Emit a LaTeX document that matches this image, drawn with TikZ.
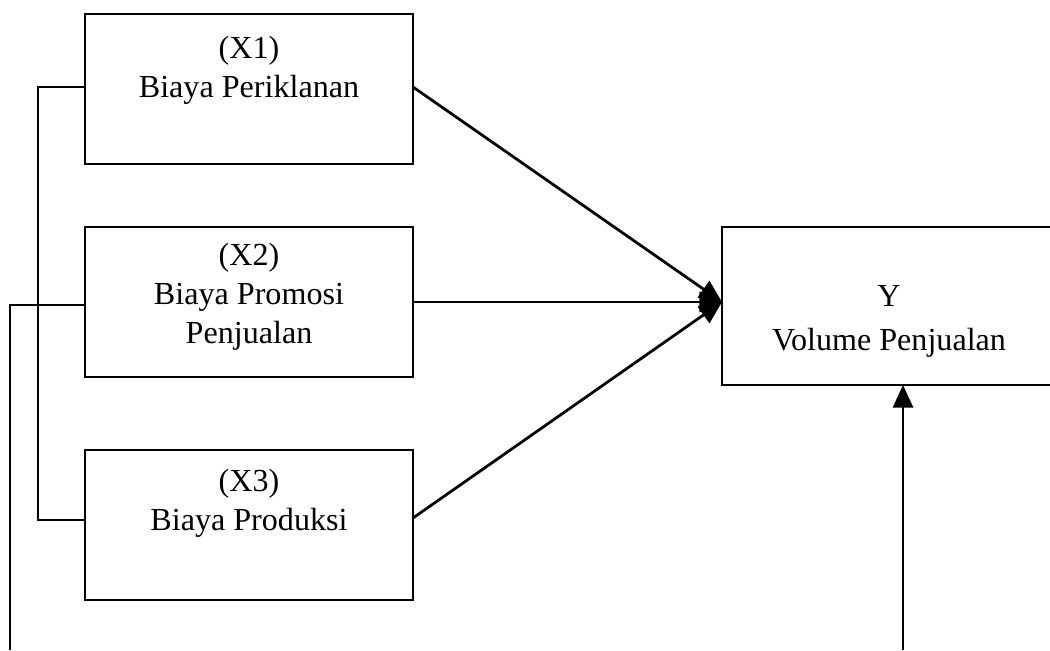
\documentclass[tikz,border=0pt]{standalone}
\usepackage{fontspec}
\setmainfont{Liberation Serif}
\usetikzlibrary{arrows.meta}
\begin{document}
\fontsize{12.8}{15.5}\selectfont
\begin{tikzpicture}[x=0.014cm, y=-0.014cm,
    box/.style={rectangle, draw, line width=0.8pt, minimum width=328*0.014cm, minimum height=150*0.014cm, inner sep=0pt},
    txt/.style={align=center, inner sep=0pt},
    link/.style={line width=0.8pt},
    arrow/.style={-{Stealth[length=9pt, width=8pt, inset=0pt]}, line width=1.1pt}
]
\useasboundingbox (0,0) rectangle (1050,650);
\begin{scope}
\clip (0,0) rectangle (1050,650);
\node[box] (x1) at (249,89) {};
\node[box] (x2) at (249,302) {};
\node[box] (x3) at (249,525) {};
\node[box, minimum width=360*0.014cm, minimum height=158*0.014cm] (y) at (902,306) {};
\end{scope}

\node[txt] (t1) at (249,70) {(X1)\\ Biaya Periklanan};
\node[txt] (t2) at (249,297) {(X2)\\ Biaya Promosi\\ Penjualan};
\node[txt] (t3) at (249,503) {(X3)\\ Biaya Produksi};
\node[txt] (ty) at (889,321) {Y\\[2pt] Volume Penjualan};

\coordinate (hit) at (722,302);
\coordinate (x2end) at (10,650);
\coordinate (yfoot) at (903,650);

\draw[arrow] (413,87) -- (hit);
\draw[arrow] (x2.east) -- (hit);
\draw[arrow] (413,518) -- (hit);
\draw[arrow] (yfoot) -- (903,385);

\draw[link] (x1.west |- 0,87) -| (38,520) -- (x3.west |- 0,520);
\draw[link] (x2.west |- 0,305) -| (x2end);
\end{tikzpicture}
\end{document}
